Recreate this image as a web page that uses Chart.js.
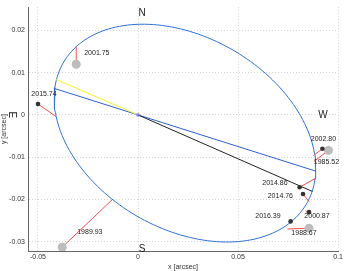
<!DOCTYPE html>
<html>
<head>
<meta charset="utf-8">
<script src="https://cdn.jsdelivr.net/npm/chart.js@4.4.1/dist/chart.umd.min.js"></script>
<style>
  html, body { margin: 0; padding: 0; background: #fff; }
  #wrap { width: 349px; height: 271px; }
</style>
</head>
<body>
<div id="wrap"><canvas id="orbitChart"></canvas></div>
<script>
// observed positions (arcsec) and the matching point on the fitted orbit
const epochs = ['2001.75', '2015.74', '1989.93', '2002.80', '1985.52', '2014.86', '2014.76', '2000.87', '2016.39', '1988.67'];
const obsX = [-0.0309, -0.0500, -0.0379, 0.0922, 0.0952, 0.0808, 0.0825, 0.0855, 0.0763, 0.0855];
const obsY = [0.0120, 0.0026, -0.0313, -0.0080, -0.0084, -0.0171, -0.0187, -0.0230, -0.0252, -0.0268];
const orbitX = [-0.0309, -0.0410, -0.0130, 0.0877, 0.0880, 0.0888, 0.0855, 0.0838, 0.0766, 0.0747];
const orbitY = [0.0162, -0.0004, -0.0201, -0.0096, -0.0110, -0.0150, -0.0205, -0.0227, -0.0250, -0.0270];
const oldEpoch = [true, false, true, false, true, false, false, false, false, true];

// apparent orbit: centre and two conjugate semi-diameters
const orbitCentre = [0.0235, -0.0043];
const semiDiamU = [0.0654, -0.0083];
const semiDiamV = [0.0, 0.0244];

// line of nodes, and the two radius lines
const nodeLineX = [-0.0420, 0.0889];
const nodeLineY = [0.0063, -0.0133];
const yellowX = [-0.0409, 0];
const yellowY = [0.0084, 0];
const blackX = [0, 0.0872];
const blackY = [0, -0.0181];

const xTicks = [-0.05, 0, 0.05, 0.1];
const yTicks = [-0.03, -0.02, -0.01, 0, 0.01, 0.02];

// label placement, pixels from the point: [dx, dy, align]
const labelPos = [[8, -11, 'left'], [6, -10, 'center'], [15, -15, 'left'], [1, -10, 'center'], [-2, 12, 'center'],
                  [-12, -4, 'right'], [-10, 2, 'right'], [8, 4, 'center'], [-10, -5, 'right'], [-5, 5, 'center']];

const compass = [
    { t: 'N', x: 0.002, y: 0.0241, rot: 0 },
    { t: 'W', x: 0.0925, y: 0.0, rot: 0 },
    { t: 'S', x: 0.002, y: -0.0317, rot: 0 },
    { t: 'E', x: -0.063, y: 0.0, rot: Math.PI / 2 }
];

function pts(xs, ys) {
    return xs.map((x, i) => ({ x: x, y: ys[i] }));
}

// outline of the orbit ellipse
const ellipsePts = [];
for (let k = 0; k <= 180; k++) {
    const t = k / 180 * 2 * Math.PI;
    ellipsePts.push({
        x: orbitCentre[0] + semiDiamU[0] * Math.cos(t) + semiDiamV[0] * Math.sin(t),
        y: orbitCentre[1] + semiDiamU[1] * Math.cos(t) + semiDiamV[1] * Math.sin(t)
    });
}

const datasets = [];
datasets.push({
    data: ellipsePts, showLine: true,
    borderColor: '#2f72d6', borderWidth: 1, pointRadius: 0, order: 5
});
datasets.push({
    data: pts(nodeLineX, nodeLineY), showLine: true,
    borderColor: '#2f5fd6', borderWidth: 1, pointRadius: 0, order: 4
});
datasets.push({
    data: pts(yellowX, yellowY), showLine: true,
    borderColor: '#f2f226', borderWidth: 1, pointRadius: 0, order: 3
});
datasets.push({
    data: pts(blackX, blackY), showLine: true,
    borderColor: '#222', borderWidth: 1, pointRadius: 0, order: 3
});
epochs.forEach((e, i) => {
    datasets.push({
        data: [{ x: obsX[i], y: obsY[i] }, { x: orbitX[i], y: orbitY[i] }], showLine: true,
        borderColor: '#ff4a4a', borderWidth: 1, pointRadius: 0, order: 2
    });
});
datasets.push({
    data: pts(obsX.filter((v, i) => oldEpoch[i]), obsY.filter((v, i) => oldEpoch[i])),
    pointRadius: 4.5, backgroundColor: '#bdbdbd', borderWidth: 0, order: 1
});
datasets.push({
    data: pts(obsX.filter((v, i) => !oldEpoch[i]), obsY.filter((v, i) => !oldEpoch[i])),
    pointRadius: 2.3, backgroundColor: '#333', borderWidth: 0, order: 0
});
datasets.push({
    data: [{ x: 0, y: 0 }],
    pointRadius: 2, backgroundColor: 'rgba(110,110,255,0.7)', borderWidth: 0, order: 0
});

const textPlugin = {
    id: 'texts',
    afterDatasetsDraw(chart) {
        const c = chart.ctx, xs = chart.scales.x, ys = chart.scales.y;
        c.save();
        c.fillStyle = '#222';
        c.font = '7px "Liberation Sans", Arial, sans-serif';
        c.textBaseline = 'middle';
        epochs.forEach((e, i) => {
            const p = labelPos[i];
            c.textAlign = p[2];
            c.fillText(e, xs.getPixelForValue(obsX[i]) + p[0], ys.getPixelForValue(obsY[i]) + p[1]);
        });
        c.font = '10px "Liberation Sans", Arial, sans-serif';
        c.textAlign = 'center';
        compass.forEach(k => {
            c.save();
            c.translate(xs.getPixelForValue(k.x), ys.getPixelForValue(k.y));
            c.rotate(k.rot);
            c.fillText(k.t, 0, 0);
            c.restore();
        });
        c.restore();
    }
};

const ctx = document.getElementById('orbitChart').getContext('2d');
const orbitChart = new Chart(ctx, {
    type: 'scatter',
    data: { datasets: datasets },
    options: {
        responsive: true,
        maintainAspectRatio: false,
        animation: false,
        layout: { padding: { top: 7, right: 11, left: 0, bottom: 0 } },
        scales: {
            x: {
                min: -0.055, max: 0.1,
                afterBuildTicks: s => { s.ticks = xTicks.map(v => ({ value: v })); },
                afterFit: s => { s.height = 20; },
                ticks: {
                    padding: 2, color: '#333',
                    font: { size: 7, family: '"Liberation Sans", Arial, sans-serif' },
                    callback: v => String(v)
                },
                grid: { color: '#d6d6d6', drawTicks: false },
                border: { color: '#666', dash: [1, 2] },
                title: {
                    display: true, text: 'x [arcsec]', color: '#333', padding: 0,
                    font: { size: 7, family: '"Liberation Sans", Arial, sans-serif' }
                }
            },
            y: {
                min: -0.0322, max: 0.0255,
                afterBuildTicks: s => { s.ticks = yTicks.map(v => ({ value: v })); },
                afterFit: s => { s.width = 28; },
                ticks: {
                    padding: 3, color: '#333',
                    font: { size: 7, family: '"Liberation Sans", Arial, sans-serif' },
                    callback: v => String(v)
                },
                grid: { color: '#d6d6d6', drawTicks: false },
                border: { color: '#666', dash: [1, 2] },
                title: {
                    display: true, text: 'y [arcsec]', color: '#333', padding: 0,
                    font: { size: 7, family: '"Liberation Sans", Arial, sans-serif' }
                }
            }
        },
        plugins: {
            legend: { display: false },
            tooltip: { enabled: false }
        }
    },
    plugins: [textPlugin]
});
</script>
</body>
</html>
